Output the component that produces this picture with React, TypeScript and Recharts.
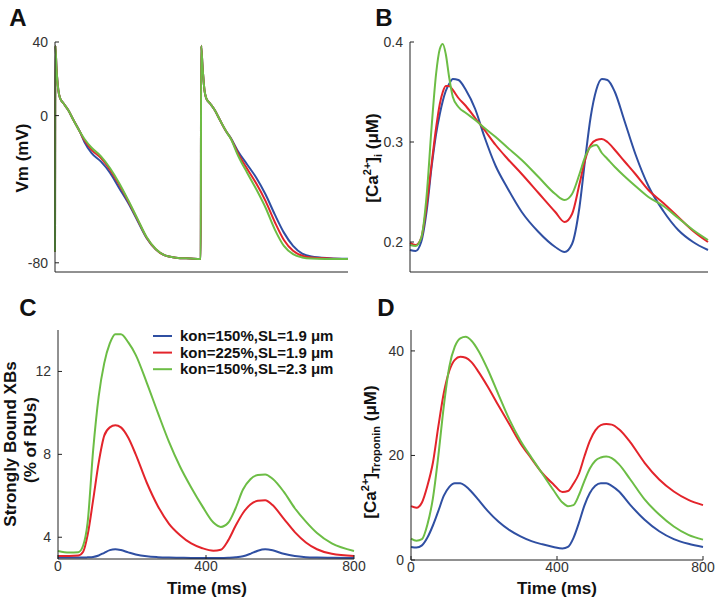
import React from 'react';
import { LineChart, Line, XAxis, YAxis } from 'recharts';

const BLUE = '#2f4fa2';
const RED = '#e3242b';
const GREEN = '#6cbd45';
const FONT = 'Arial, "Liberation Sans", Helvetica, sans-serif';

// A: membrane potential (mV)
const vmTime = [0, 1, 4, 9, 14, 23, 36, 50, 68, 80, 100, 125, 150, 175, 200, 225, 250, 275, 300, 330, 370, 398,
  399, 403, 408, 413, 423, 436, 450, 468, 480, 500, 525, 550, 575, 600, 625, 650, 675, 700, 750, 800];
const vmBlue = [-74, 38, 26, 14, 9.4, 6.7, 3, -2.3, -8.8, -14.2, -20.4, -24.9, -31, -39.3, -47.5, -57, -66.5, -72.7, -76, -77.2, -77.7, -78,
  38, 26, 14, 9.4, 6.7, 3, -2.3, -8.8, -12.2, -19.5, -26.7, -33.9, -42.9, -53.7, -63.6, -70.8, -75, -76.6, -77.5, -77.8];
const vmRed = [-74, 38, 26, 14, 9.4, 6.7, 3, -2.3, -8.8, -13.3, -18.6, -23, -29.4, -37.5, -46.5, -56.4, -66.2, -72.6, -76, -77.2, -77.7, -78,
  38, 26, 14, 9.4, 6.7, 3, -2.3, -8.8, -12.4, -20.7, -29, -37.1, -46.5, -57.8, -67.6, -73.5, -76.2, -77.1, -77.6, -77.9];
const vmGreen = [-74, 38, 26, 14, 9.4, 6.7, 3, -2.3, -8.8, -12.6, -17.5, -22, -28.5, -36.6, -46, -56, -66, -72.5, -76, -77.2, -77.7, -78,
  38, 26, 14, 9.4, 6.7, 3, -2.3, -8.8, -12.6, -21.8, -31.2, -40.2, -50.1, -61.8, -70.8, -75.3, -77.1, -77.7, -77.9, -78];

// B: cytosolic calcium (µM)
const caTime = [0, 15, 30, 45, 58, 70, 80, 88, 96, 105, 115, 130, 150, 175, 200, 230, 260, 300, 345, 390, 415, 435,
  455, 470, 485, 500, 515, 530, 550, 575, 605, 640, 680, 720, 760, 800];
const caBlue = [0.192, 0.191, 0.2, 0.232, 0.275, 0.308, 0.328, 0.341, 0.351, 0.358, 0.363, 0.362, 0.352, 0.333, 0.305, 0.276, 0.255, 0.23, 0.21, 0.195, 0.19, 0.198,
  0.235, 0.282, 0.325, 0.352, 0.363, 0.362, 0.35, 0.322, 0.288, 0.256, 0.231, 0.212, 0.2, 0.192];
const caRed = [0.199, 0.197, 0.204, 0.238, 0.278, 0.314, 0.338, 0.35, 0.356, 0.356, 0.352, 0.344, 0.336, 0.324, 0.312, 0.297, 0.284, 0.268, 0.249, 0.23, 0.22, 0.228,
  0.258, 0.282, 0.297, 0.302, 0.303, 0.3, 0.292, 0.281, 0.268, 0.252, 0.239, 0.225, 0.211, 0.2];
const caGreen = [0.197, 0.196, 0.204, 0.248, 0.315, 0.368, 0.393, 0.398, 0.388, 0.365, 0.345, 0.335, 0.329, 0.322, 0.314, 0.305, 0.295, 0.282, 0.265, 0.248, 0.242, 0.248,
  0.268, 0.285, 0.295, 0.297, 0.289, 0.283, 0.275, 0.266, 0.256, 0.245, 0.236, 0.224, 0.212, 0.202];

// C: strongly bound crossbridges (% of RUs)
const xbTime = [0, 30, 55, 68, 80, 95, 110, 125, 140, 155, 170, 190, 210, 240, 270, 300, 330, 360, 390, 420, 440,
  460, 480, 500, 520, 540, 560, 580, 610, 640, 670, 700, 740, 800];
const xbBlue = [3.02, 3.02, 3.02, 3.02, 3.03, 3.05, 3.12, 3.25, 3.38, 3.42, 3.38, 3.27, 3.17, 3.08, 3.04, 3.02, 3.01, 3.0, 3.0, 3.0, 3.0,
  3.01, 3.03, 3.08, 3.2, 3.35, 3.42, 3.37, 3.2, 3.09, 3.04, 3.02, 3.01, 3.0];
const xbRed = [3.1, 3.1, 3.12, 3.3, 4.1, 5.8, 7.6, 8.9, 9.3, 9.4, 9.3, 8.8, 8.0, 6.63, 5.5, 4.65, 4.1, 3.7, 3.47, 3.35, 3.4,
  3.85, 4.55, 5.17, 5.58, 5.76, 5.79, 5.55, 4.9, 4.25, 3.75, 3.42, 3.2, 3.1];
const xbGreen = [3.34, 3.26, 3.28, 3.6, 4.7, 8.2, 10.8, 12.4, 13.35, 13.8, 13.8, 13.4, 12.8, 11.45, 10.0, 8.6, 7.4, 6.4, 5.5, 4.71, 4.5,
  4.7, 5.4, 6.3, 6.8, 7.0, 7.03, 6.82, 6.2, 5.4, 4.75, 4.2, 3.7, 3.34];

// D: calcium bound to troponin (µM)
const tnTime = [0, 15, 30, 45, 60, 75, 90, 105, 120, 135, 150, 165, 185, 210, 240, 270, 300, 330, 360, 390, 415, 430,
  445, 460, 475, 490, 505, 520, 535, 550, 570, 600, 640, 680, 720, 760, 800];
const tnBlue = [2.5, 2.4, 2.8, 4.3, 6.6, 9.4, 12.3, 14, 14.7, 14.7, 14.1, 13.1, 11.5, 9.4, 7.3, 5.7, 4.5, 3.6, 3.0, 2.5, 2.2, 2.5,
  4.2, 7.1, 10.4, 12.8, 14.2, 14.7, 14.7, 14.2, 13.1, 10.6, 7.7, 5.5, 4, 3.1, 2.5];
const tnRed = [10.3, 10.0, 11.0, 14.2, 18.6, 25.6, 32, 36.2, 38.3, 38.9, 38.7, 37.9, 36, 33.2, 29.5, 25.9, 22.3, 19.4, 16.6, 14.5, 13.0, 13.2,
  14.6, 16.5, 19.8, 22.8, 24.8, 25.8, 26, 25.9, 25, 22.6, 18.6, 15.4, 13.1, 11.5, 10.5];
const tnGreen = [4.1, 3.7, 4.0, 6.8, 11.8, 20, 29.5, 37, 40.8, 42.4, 42.7, 42, 40, 36.5, 31.6, 26.8, 22.8, 19.6, 16.5, 13.4, 11, 10.3,
  10.5, 12.4, 15.1, 17.5, 19, 19.6, 19.8, 19.5, 18.3, 15.5, 11.6, 8.7, 6.4, 4.8, 3.9];

const legendLabels = ['kon=150%,SL=1.9 μm', 'kon=225%,SL=1.9 μm', 'kon=150%,SL=2.3 μm'];
const legendColors = [BLUE, RED, GREEN];

const rows = (time: number[], b: number[], r: number[], g: number[]) =>
  time.map((t, i) => ({ t, blue: b[i], red: r[i], green: g[i] }));

type PanelProps = {
  x: number; y: number; w: number; h: number;
  data: any[]; domain: [number, number]; yTicks: number[];
  yFmt?: (v: number) => string; xLabels: boolean;
};

function Panel({ x, y, w, h, data, domain, yTicks, yFmt, xLabels }: PanelProps) {
  const ml = 50, mt = 10, mr = 15, mb = 26;
  const tickStyle = { fill: '#333', fontSize: 14, fontFamily: FONT };
  return (
    <div style={{ position: 'absolute', left: x - ml, top: y - mt }}>
      <LineChart width={w + ml + mr} height={h + mt + mb} data={data}
        margin={{ top: mt, right: mr, bottom: 0, left: 0 }}>
        <XAxis type="number" dataKey="t" domain={[0, 800]} ticks={[0, 400, 800]} height={mb}
          stroke="#222" tickSize={-4} tickMargin={6} tick={xLabels ? tickStyle : false} />
        <YAxis type="number" domain={domain} ticks={yTicks} width={ml} allowDataOverflow
          stroke="#222" tickSize={-4} tickMargin={11} tick={tickStyle} tickFormatter={yFmt} />
        <Line type="monotone" dataKey="blue" stroke={BLUE} strokeWidth={2} dot={false} isAnimationActive={false} />
        <Line type="monotone" dataKey="red" stroke={RED} strokeWidth={2} dot={false} isAnimationActive={false} />
        <Line type="monotone" dataKey="green" stroke={GREEN} strokeWidth={2} dot={false} isAnimationActive={false} />
      </LineChart>
    </div>
  );
}

const bold = { fontFamily: FONT, fontWeight: 700, fill: '#111' } as const;

export default function App() {
  return (
    <div style={{ position: 'absolute', left: 0, top: 0, width: 715, height: 607, background: '#fff' }}>
      <Panel x={55} y={42} w={293} h={230} data={rows(vmTime, vmBlue, vmRed, vmGreen)}
        domain={[-85, 40]} yTicks={[-80, 0, 40]} xLabels={false} />
      <Panel x={410} y={42} w={298} h={230} data={rows(caTime, caBlue, caRed, caGreen)}
        domain={[0.17, 0.4]} yTicks={[0.2, 0.3, 0.4]} yFmt={(v) => v.toFixed(1)} xLabels={false} />
      <Panel x={58} y={330} w={296} h={229} data={rows(xbTime, xbBlue, xbRed, xbGreen)}
        domain={[2.95, 14]} yTicks={[4, 8, 12]} xLabels />
      <Panel x={411} y={330} w={292} h={230} data={rows(tnTime, tnBlue, tnRed, tnGreen)}
        domain={[0, 44]} yTicks={[0, 20, 40]} xLabels />

      <svg width={715} height={607} style={{ position: 'absolute', left: 0, top: 0, pointerEvents: 'none' }}>
        <text x={18} y={26} fontSize={24} {...bold} textAnchor="middle">A</text>
        <text x={384} y={26} fontSize={24} {...bold} textAnchor="middle">B</text>
        <text x={28} y={316} fontSize={24} {...bold} textAnchor="middle">C</text>
        <text x={386} y={316} fontSize={24} {...bold} textAnchor="middle">D</text>

        <text transform="translate(28,158) rotate(-90)" fontSize={17} {...bold} textAnchor="middle">Vm (mV)</text>
        <text transform="translate(378,158) rotate(-90)" fontSize={17} {...bold} textAnchor="middle">
          [Ca<tspan dy={-7} fontSize={11}>2+</tspan><tspan dy={7}>]</tspan><tspan dy={4} fontSize={11}>i</tspan><tspan dy={-4}> (μM)</tspan>
        </text>
        <text transform="translate(16,444) rotate(-90)" fontSize={17} {...bold} textAnchor="middle">Strongly Bound XBs</text>
        <text transform="translate(36,440) rotate(-90)" fontSize={17} {...bold} textAnchor="middle">(% of RUs)</text>
        <text transform="translate(376,452) rotate(-90)" fontSize={17} {...bold} textAnchor="middle">
          [Ca<tspan dy={-7} fontSize={11}>2+</tspan><tspan dy={7}>]</tspan><tspan dy={4} fontSize={11}>Troponin</tspan><tspan dy={-4}> (μM)</tspan>
        </text>

        <text x={207} y={594} fontSize={17} {...bold} textAnchor="middle">Time (ms)</text>
        <text x={557} y={594} fontSize={17} {...bold} textAnchor="middle">Time (ms)</text>

        {legendLabels.map((label, i) => (
          <g key={label}>
            <line x1={153} x2={172} y1={336 + i * 16.6} y2={336 + i * 16.6} stroke={legendColors[i]} strokeWidth={2} />
            <text x={180} y={341 + i * 16.6} fontSize={15} {...bold}>{label}</text>
          </g>
        ))}
      </svg>
    </div>
  );
}
